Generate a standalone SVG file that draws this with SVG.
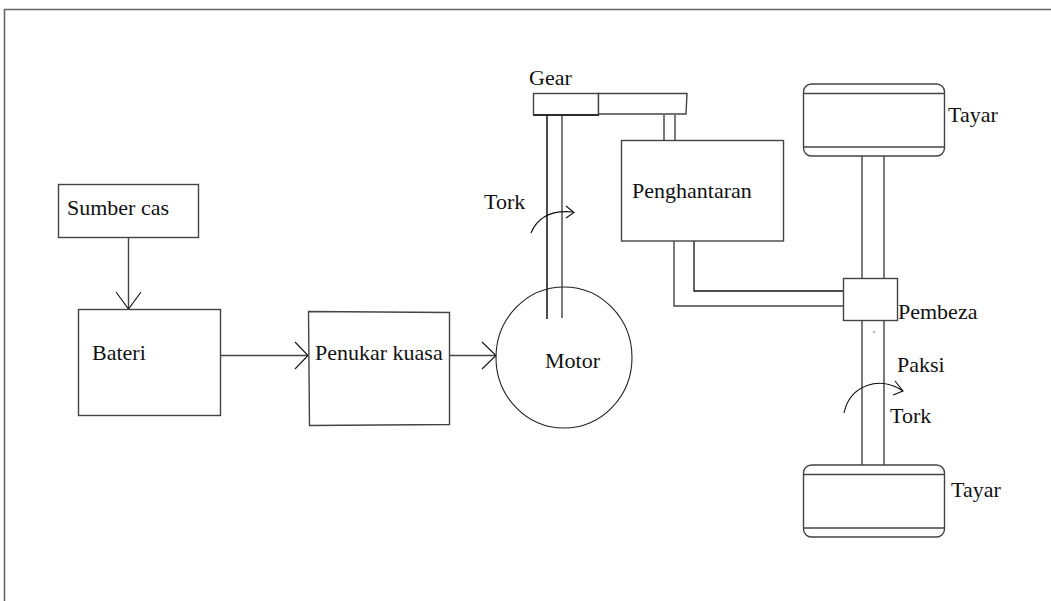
<svg xmlns="http://www.w3.org/2000/svg" width="1051" height="601" viewBox="0 0 1051 601">
  <defs>
    <style>
      .box { fill: #ffffff; stroke: #444444; stroke-width: 1.4; }
      .ln { fill: none; stroke: #444444; stroke-width: 1.4; }
      .dk { fill: none; stroke: #111111; stroke-width: 1.5; }
      .thin { fill: none; stroke: #111111; stroke-width: 1.1; }
      .lbl { font-family: "Liberation Serif", "Times New Roman", serif; font-size: 22px; fill: #111111; }
    </style>
  </defs>
  <rect width="1051" height="601" fill="#ffffff"/>

  <!-- page frame -->
  <path d="M4.5 601 V9.5 H1051" fill="none" stroke="#666666" stroke-width="1.6"/>

  <!-- connectors -->
  <g id="connectors">
    <path class="ln" d="M128.5 237 V309"/>
    <path class="thin" d="M116 292 L128.5 309 L141 292"/>
    <path class="ln" d="M220 355.5 H308"/>
    <path class="thin" d="M295 342 L308 355.5 L295 369"/>
    <path class="ln" d="M450 355.5 H496"/>
    <path class="thin" d="M482 342 L496 355.5 L482 369"/>
    <!-- motor shaft -->
    <path class="dk" d="M547 319 V115"/>
    <path class="ln" d="M562 318 V115"/>
    <!-- gear to transmission -->
    <path class="ln" d="M664 115 V140 M675 115 V140"/>
    <!-- transmission to differential -->
    <path class="ln" d="M674 241 V306 H843"/>
    <path class="dk" d="M694 241 V291 H843" style="stroke-width:1.3"/>
    <!-- axle -->
    <path class="ln" d="M862 156 V278 M884 156 V278"/>
    <path class="ln" d="M862 320 V465 M884 320 V465"/>
    <circle cx="874" cy="332" r="0.7" fill="#333333"/>
    <!-- torque arrows -->
    <path class="thin" d="M531 233 C538 216 552 210 573 212"/>
    <path class="thin" d="M566 206 L574 212.5 L566 218"/>
    <path class="thin" d="M844 413 C850 385 880 375 903 391"/>
    <path class="thin" d="M895 381 L903 391 L893 395"/>
  </g>

  <g id="sumber-cas">
    <rect class="box" x="58.5" y="184.5" width="140" height="53"/>
    <text class="lbl" x="67" y="215">Sumber cas</text>
  </g>

  <g id="bateri">
    <rect class="box" x="78.5" y="309.5" width="142" height="106"/>
    <text class="lbl" x="92" y="360">Bateri</text>
  </g>

  <g id="penukar-kuasa">
    <path class="box" d="M308.5 311.5 L449.5 312.5 L449.5 424.5 L309.5 425.5 Z"/>
    <text class="lbl" x="315" y="360">Penukar kuasa</text>
  </g>

  <g id="motor">
    <ellipse class="box" cx="564" cy="357.5" rx="68" ry="70.5" style="fill:none;stroke:#222222;stroke-width:1.1"/>
    <text class="lbl" x="545" y="368">Motor</text>
  </g>

  <g id="gear">
    <rect class="box" x="533.5" y="93.5" width="65" height="21.5"/>
    <path class="box" d="M598.5 93.5 H687 L686 114 H598.5 Z"/>
    <path class="dk" d="M533.5 115 H598.5"/>
    <text class="lbl" x="529" y="85">Gear</text>
  </g>

  <g id="penghantaran">
    <rect class="box" x="621.5" y="140.5" width="162" height="100.5"/>
    <text class="lbl" x="632" y="198">Penghantaran</text>
  </g>

  <g id="pembeza">
    <rect class="box" x="843.5" y="278.5" width="54" height="42"/>
    <text class="lbl" x="898" y="319">Pembeza</text>
  </g>

  <g id="tayar-atas">
    <rect class="box" x="803.5" y="84" width="141" height="72" rx="8" ry="8"/>
    <path class="ln" d="M803.5 93.5 H944.5 M803.5 147 H944.5"/>
    <text class="lbl" x="948" y="122">Tayar</text>
  </g>

  <g id="tayar-bawah">
    <rect class="box" x="803.5" y="465" width="141" height="72" rx="8" ry="8"/>
    <path class="ln" d="M803.5 474.5 H944.5 M803.5 528 H944.5"/>
    <text class="lbl" x="951" y="497">Tayar</text>
  </g>

  <g id="paksi-labels">
    <text class="lbl" x="484" y="209">Tork</text>
    <text class="lbl" x="897" y="372">Paksi</text>
    <text class="lbl" x="890" y="423">Tork</text>
  </g>
</svg>
